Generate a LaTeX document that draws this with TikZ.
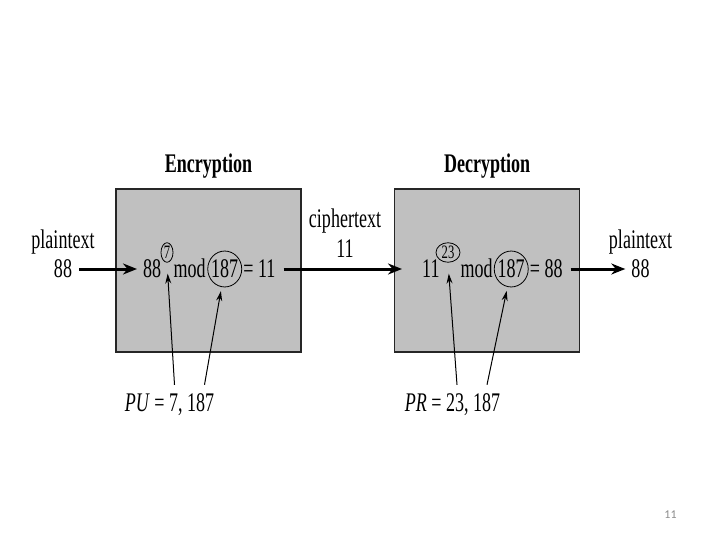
\documentclass[tikz,border=0pt]{standalone}
\usepackage{fontspec}
\setmainfont{Liberation Serif}[FakeStretch=0.67]
\newfontfamily\pagefont{Carlito}
\usepackage{xcolor}
\usepackage{tikz}
\usetikzlibrary{
    arrows.meta,
    positioning,
    shapes.geometric
}
\definecolor{boxfill}{HTML}{C0C0C0}
\definecolor{boxline}{HTML}{262626}
\definecolor{pagegray}{HTML}{8C8C8C}
\tikzset{
    stagebox/.style={
        rectangle, draw=boxline, fill=boxfill, line width=1.6bp,
        minimum width=185bp, minimum height=163bp
    },
    stagetitle/.style={
        font=\fontsize{27}{31}\selectfont\bfseries, inner sep=0pt
    },
    sidelabel/.style={
        font=\fontsize{27}{31}\selectfont, inner sep=0pt
    },
    eqtext/.style={
        font=\fontsize{27}{31}\selectfont, inner sep=0pt,
        text height=18bp, text depth=0bp
    },
    keyring/.style={
        ellipse, draw=black, line width=0.8bp
    },
    modring/.style={
        eqtext, keyring, inner xsep=-1.5bp, inner ysep=3.7bp
    },
    expring/.style={
        keyring, font=\fontsize{19}{22}\selectfont, inner xsep=1bp,
        inner ysep=0.5bp, text height=12.8bp, text depth=0bp,
        minimum height=19bp
    },
    flow/.style={
        -{Stealth[length=14bp, width=11bp]}, line width=3bp, color=black
    },
    pointer/.style={
        -{Stealth[length=10bp, width=6bp]}, line width=1bp, color=black
    },
    pagenum/.style={
        font=\pagefont\fontsize{12}{14}\selectfont, text=pagegray
    },
}

\begin{document}
\begin{tikzpicture}[x=1bp, y=-1bp]
    \useasboundingbox (0,0) rectangle (720,540);

    % Encryption / Decryption boxes
    \node[stagebox] (enc) at (208.5,270.5) {};
    \node[stagebox, right=92bp of enc] (dec) {};
    \node[stagetitle, above=10bp of enc] (enctitle) {Encryption};
    \node[stagetitle, above=10bp of dec] (dectitle) {Decryption};

    % Encryption formula
    \node[eqtext, anchor=west] (base1) at (143,269) {88};
    \node[expring, minimum width=12bp] (exp1) at (167,252.5) {7};
    \node[eqtext, anchor=west] (mod1) at (exp1.east |- base1.west) {mod};
    \node[modring, right=1.5bp of mod1] (mod1n) {187};
    \node[eqtext, right=1bp of mod1n] (res1) {= 11};

    % Decryption formula
    \node[eqtext, anchor=west] (base2) at (422,269) {11};
    \node[expring, minimum width=24bp] (exp2) at (448,252.5) {23};
    \node[eqtext, anchor=west] (mod2) at (exp2.east |- base2.west) {mod};
    \node[modring, right=1bp of mod2] (mod2n) {187};
    \node[eqtext, right=1bp of mod2n] (res2) {= 88};

    % Side labels
    \node[eqtext] (in88) at (63,269) {88};
    \node[sidelabel, above=5bp of in88] (inlabel) {plaintext};
    \node[eqtext] (ct11) at (345,249) {11};
    \node[sidelabel, above=6bp of ct11] (ctlabel) {ciphertext};
    \node[eqtext] (out88) at (640.5,269) {88};
    \node[sidelabel, above=5bp of out88] (outlabel) {plaintext};

    % Keys
    \node[sidelabel] (pu) at (169.5,405) {\textit{PU} = 7, 187};
    \node[sidelabel] (pr) at (452.5,405) {\textit{PR} = 23, 187};
    \coordinate (pu7) at ([xshift=5bp, yshift=9bp]pu.north);
    \coordinate (pu187) at ([xshift=35bp, yshift=9bp]pu.north);
    \coordinate (pr23) at ([xshift=4.5bp, yshift=9bp]pr.north);
    \coordinate (pr187) at ([xshift=34.5bp, yshift=9bp]pr.north);

    % Data flow
    \draw[flow, shorten <=7bp, shorten >=6bp] (in88) -- (base1);
    \draw[flow, shorten <=8bp, shorten >=20bp] (res1) -- (base2);
    \draw[flow, shorten <=8bp, shorten >=6bp] (res2) -- (out88);

    % Key pointers
    \draw[pointer, shorten >=11bp] (pu7) -- (exp1.south);
    \draw[pointer, shorten >=4bp] (pu187) -- (mod1n);
    \draw[pointer, shorten >=11bp] (pr23) -- (exp2.south);
    \draw[pointer, shorten >=4bp] (pr187) -- (mod2n);

    % Page number
    \node[pagenum] (pageno) at (670.5,515) {11};
\end{tikzpicture}
\end{document}
